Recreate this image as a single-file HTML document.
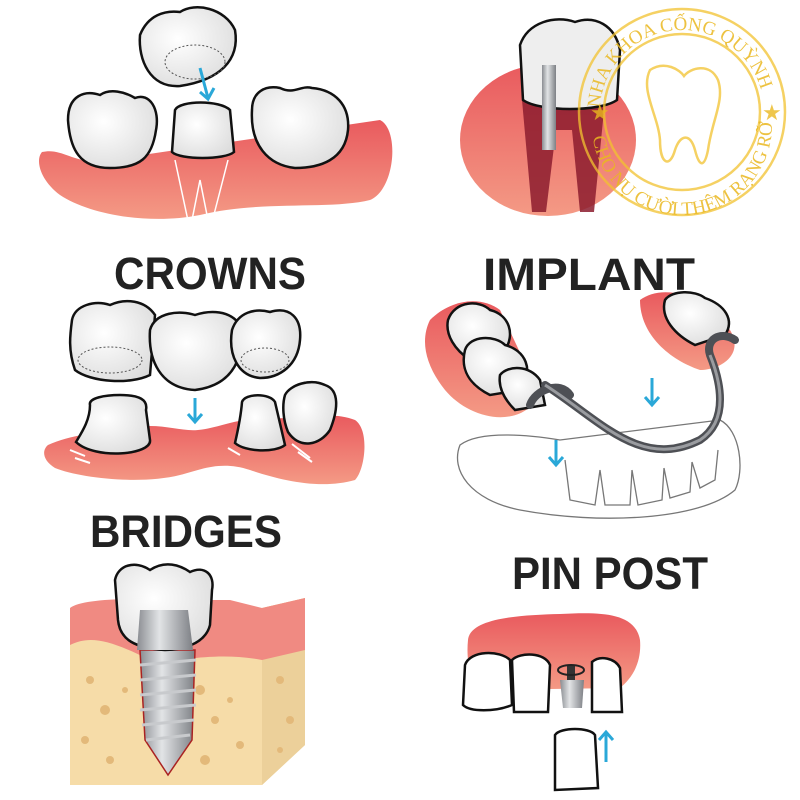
<!DOCTYPE html>
<html><head><meta charset="utf-8"><style>html,body{margin:0;padding:0;background:#fff}svg{display:block}</style></head>
<body>
<svg width="800" height="800" viewBox="0 0 800 800" xmlns="http://www.w3.org/2000/svg">
<defs>
<linearGradient id="gum" x1="0" y1="0" x2="0" y2="1"><stop offset="0" stop-color="#e95a5e"/><stop offset="1" stop-color="#f49a85"/></linearGradient>
<radialGradient id="tooth" cx="0.4" cy="0.4" r="0.7"><stop offset="0" stop-color="#fff"/><stop offset="1" stop-color="#dcdcdc"/></radialGradient>
<linearGradient id="metal" x1="0" x2="1"><stop offset="0" stop-color="#8a8d92"/><stop offset="0.4" stop-color="#e2e4e6"/><stop offset="1" stop-color="#7d8085"/></linearGradient>
<path id="wm1" d="M 600 112 A 82 82 0 0 1 764 112"/>
<path id="wm2" d="M 592 125 A 90 90 0 0 0 772 125"/>
</defs>
<g stroke="#111" stroke-width="2.5">
<path d="M42 152 C60 148 70 160 95 162 L380 120 C400 130 395 190 370 200 C330 210 260 200 200 215 C150 225 90 215 60 195 C40 180 35 160 42 152Z" fill="url(#gum)" stroke="none"/>
<path d="M68 120 C68 95 85 90 100 95 C110 88 125 92 135 98 C150 92 160 110 156 130 C152 158 140 168 110 168 C80 168 70 150 68 120Z" fill="url(#tooth)"/>
<path d="M252 110 C252 92 265 85 280 88 C295 95 300 85 312 88 C335 90 350 105 348 130 C345 160 320 168 295 168 C268 165 250 145 252 110Z" fill="url(#tooth)"/>
<path d="M175 110 C180 100 220 100 230 110 L234 152 C225 160 180 160 172 152Z" fill="url(#tooth)"/>
<path d="M175 160 L190 230 L200 180 L210 230 L228 160" fill="none" stroke="#fff" stroke-width="1.5"/>
<path d="M140 35 C148 15 165 10 180 12 C195 2 225 8 235 30 C240 60 220 80 180 86 C150 88 138 60 140 35Z" fill="url(#tooth)"/>
<ellipse cx="195" cy="62" rx="30" ry="17" fill="none" stroke="#555" stroke-width="1" stroke-dasharray="2 2"/>
</g>
<path d="M200 68 L208 98 M200 92 L208 99 L214 88" stroke="#2aa8d8" stroke-width="3" fill="none"/>
<!-- IMPLANT top right -->
<ellipse cx="548" cy="140" rx="88" ry="76" fill="url(#gum)"/>
<path d="M522 100 L532 212 L546 212 L556 130 L572 130 L580 212 L594 212 L605 100Z" fill="#8c1c2e" opacity="0.85"/>
<path d="M520 45 C528 22 555 15 575 22 C595 15 615 25 620 50 L617 100 C600 112 540 112 523 100Z" fill="#eee" stroke="#111" stroke-width="2.5"/>
<rect x="542" y="65" width="14" height="85" fill="url(#metal)"/>
<!-- watermark -->
<g fill="none" stroke="#f2c230" stroke-width="2.5" opacity="0.75">
<circle cx="682" cy="112" r="103"/>
<circle cx="682" cy="112" r="78"/>
<path d="M650 70 C665 60 680 70 684 76 C690 68 710 62 718 80 C725 100 712 120 708 150 C705 165 700 170 695 150 C690 132 680 135 675 150 C670 168 660 165 660 140 C658 115 640 90 650 70Z"/>
</g>
<g font-family="Liberation Serif, serif" font-size="19" fill="#eab820" opacity="0.85">
<text><textPath href="#wm1" startOffset="4">NHA KHOA CỐNG QUỲNH</textPath></text>
<text><textPath href="#wm2" startOffset="12">CHO NỤ CƯỜI THÊM RẠNG RỠ</textPath></text>
</g>
<text x="590" y="120" fill="#eab820" font-size="22" opacity="0.8">★</text>
<text x="762" y="120" fill="#eab820" font-size="22" opacity="0.8">★</text>
<g font-family="Liberation Sans, sans-serif" font-weight="bold" fill="#222" font-size="45">
<text x="114" y="289" textLength="192" lengthAdjust="spacingAndGlyphs">CROWNS</text>
<text x="483" y="290" textLength="212" lengthAdjust="spacingAndGlyphs">IMPLANT</text>
<text x="90" y="547" textLength="192" lengthAdjust="spacingAndGlyphs">BRIDGES</text>
<text x="512" y="589" textLength="196" lengthAdjust="spacingAndGlyphs">PIN POST</text>
</g>
<!-- BRIDGES -->
<path d="M48 445 C70 435 100 432 130 428 C160 422 180 432 198 430 C220 428 235 418 270 418 C300 420 330 410 355 420 C370 430 365 470 355 480 C320 490 280 480 250 470 C220 460 200 470 180 475 C140 485 80 478 55 468 C42 460 42 450 48 445Z" fill="url(#gum)"/>
<g stroke="#fff" stroke-width="2" fill="none"><path d="M70 450 L85 456 M75 458 L90 463 M228 448 L240 455 M292 444 L310 458 M298 452 L312 462"/></g>
<g stroke="#111" stroke-width="2.5" fill="url(#tooth)">
<path d="M90 405 C88 398 105 395 120 395 C140 395 148 400 146 410 L150 440 C152 455 95 460 76 442 C82 432 90 420 90 405Z"/>
<path d="M242 402 C245 393 270 393 275 402 L285 445 C275 453 245 452 235 443 C238 430 241 415 242 402Z"/>
<path d="M285 395 C290 385 310 378 325 385 C340 390 338 410 330 430 C320 445 300 450 288 432 C283 420 282 405 285 395Z"/>
<path d="M72 320 C75 305 95 300 110 305 C125 298 145 300 155 315 L150 375 C130 385 90 382 75 370 C68 350 70 335 72 320Z"/>
<path d="M150 330 C155 312 180 310 195 315 C210 310 230 310 240 325 C245 355 235 385 195 390 C160 388 148 360 150 330Z"/>
<path d="M232 330 C238 312 255 308 270 312 C290 306 302 318 300 340 C298 365 280 378 260 378 C238 376 228 355 232 330Z"/>
</g>
<ellipse cx="110" cy="360" rx="32" ry="13" fill="none" stroke="#555" stroke-width="1" stroke-dasharray="2 2"/>
<ellipse cx="265" cy="360" rx="24" ry="12" fill="none" stroke="#555" stroke-width="1" stroke-dasharray="2 2"/>
<path d="M195 398 L195 422 M188 414 L195 422 L202 414" stroke="#2aa8d8" stroke-width="3" fill="none"/>
<!-- partial denture -->
<path d="M430 320 C450 300 480 295 500 310 L540 395 C520 430 470 420 445 390 C425 365 420 340 430 320Z" fill="url(#gum)"/>
<path d="M640 300 C660 285 700 290 730 330 C745 355 720 370 700 370 C670 360 640 335 640 300Z" fill="url(#gum)"/>
<g stroke="#111" stroke-width="2.5" fill="url(#tooth)">
<path d="M448 320 C455 300 480 300 490 310 C510 315 515 335 505 350 L470 360 C455 350 445 335 448 320Z"/>
<path d="M465 350 C470 335 495 335 505 345 C525 350 535 370 520 390 L490 395 C470 385 460 370 465 350Z"/>
<path d="M500 375 C508 365 530 365 540 380 L545 405 L515 410 C505 400 498 388 500 375Z"/>
<path d="M665 300 C672 290 695 290 705 298 C725 305 735 320 725 335 L695 345 C675 335 660 318 665 300Z"/>
</g>
<path d="M460 445 C480 430 530 435 560 440 L720 420 C740 430 745 470 735 490 C700 520 600 525 520 510 C470 500 450 470 460 445Z" fill="none" stroke="#777" stroke-width="1.3"/>
<path d="M565 460 L570 500 L595 505 L600 470 M600 470 L605 505 L630 505 L632 470 M632 470 L638 505 L662 500 L664 468 M664 468 L670 498 L690 492 L692 462 M692 462 L700 488 L715 480 L718 450" fill="none" stroke="#777" stroke-width="1.3"/>
<path d="M530 405 C535 390 560 380 570 395 M545 385 C600 420 640 470 700 440 C730 420 720 380 710 355 C705 340 720 330 735 340" fill="none" stroke="#4e5055" stroke-width="8" stroke-linecap="round"/>
<path d="M545 385 C600 420 640 470 700 440 C730 420 720 380 710 355" fill="none" stroke="#9a9ca0" stroke-width="3"/>
<path d="M652 378 L652 405 M645 397 L652 405 L659 397 M556 440 L556 465 M549 457 L556 465 L563 457" stroke="#2aa8d8" stroke-width="3" fill="none"/>
<!-- bottom implant -->
<path d="M70 608 L262 608 L305 598 L305 745 L262 785 L70 785Z" fill="#f6dca8"/>
<path d="M262 608 L305 598 L305 745 L262 785Z" fill="#ecd09a"/>
<path d="M70 608 C80 600 120 598 150 600 L230 600 L262 608 L305 598 L305 650 L262 660 C210 650 170 665 150 660 C110 640 90 635 70 645Z" fill="#f08a82"/>
<g fill="#e3b97a">
<circle cx="90" cy="680" r="4"/><circle cx="105" cy="710" r="5"/><circle cx="85" cy="740" r="4"/><circle cx="110" cy="760" r="4"/><circle cx="125" cy="690" r="3"/><circle cx="200" cy="690" r="5"/><circle cx="215" cy="720" r="4"/><circle cx="230" cy="700" r="3"/><circle cx="205" cy="760" r="5"/><circle cx="240" cy="745" r="4"/><circle cx="280" cy="680" r="4"/><circle cx="290" cy="720" r="4"/><circle cx="280" cy="750" r="3"/>
</g>
<path d="M140 650 L195 650 L192 740 L168 775 L145 740Z" fill="url(#metal)" stroke="#a22" stroke-width="1.5"/>
<g stroke="#c8cacd" stroke-width="3" fill="none"><path d="M140 665 L196 660 M140 680 L196 675 M140 695 L196 690 M140 710 L196 705 M142 725 L194 720 M146 740 L190 735"/></g>
<path d="M115 580 C118 565 135 560 150 570 C165 560 180 565 190 572 C205 565 215 575 212 590 L210 625 C205 645 180 650 165 650 C135 648 120 640 118 620Z" fill="url(#tooth)" stroke="#111" stroke-width="2.5"/>
<path d="M140 610 L188 610 L193 650 L137 650Z" fill="url(#metal)"/>
<!-- pin post -->
<path d="M468 640 C470 618 520 615 560 614 C600 612 635 612 640 640 C642 665 630 680 620 688 L480 690 C470 680 466 660 468 640Z" fill="url(#gum)"/>
<g stroke="#111" stroke-width="2.5" fill="#fff">
<path d="M465 665 C470 650 500 650 510 660 L512 705 C495 712 470 712 463 705Z"/>
<path d="M512 660 C520 652 545 652 550 665 L548 712 L514 712Z"/>
<path d="M592 662 C600 655 615 658 620 668 L622 712 L592 712Z"/>
<path d="M555 735 C560 727 590 727 595 735 L598 788 L555 790Z"/>
</g>
<path d="M560 680 L584 680 L582 708 L563 708Z" fill="url(#metal)"/>
<rect x="567" y="666" width="8" height="14" fill="#333"/>
<ellipse cx="571" cy="670" rx="13" ry="5" fill="none" stroke="#222" stroke-width="2"/>
<path d="M606 762 L606 732 M599 740 L606 732 L613 740" stroke="#2aa8d8" stroke-width="3" fill="none"/>
</svg>
</body></html>
